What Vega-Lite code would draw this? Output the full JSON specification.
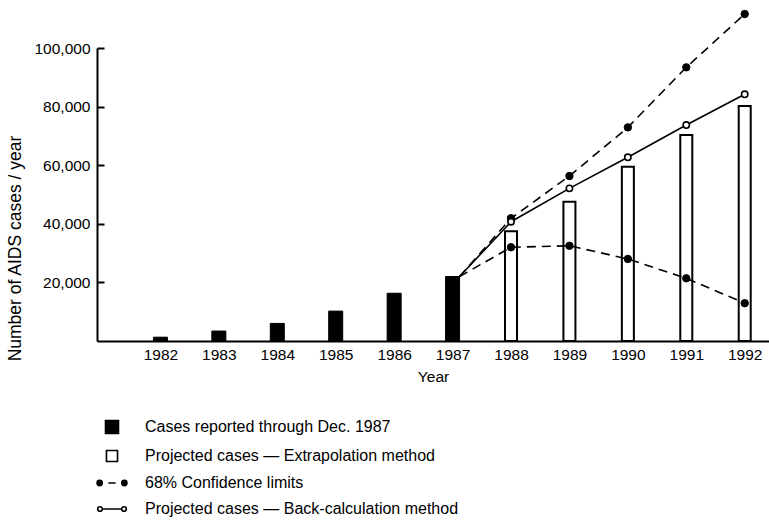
{
  "$schema": "https://vega.github.io/schema/vega-lite/v6.json",
  "autosize": "none",
  "width": 672,
  "height": 293,
  "padding": {"left": 97, "top": 48, "right": 0, "bottom": 190},
  "background": "white",
  "config": {
    "view": {"stroke": null},
    "font": "Liberation Sans",
    "axis": {"labelFont": "Liberation Sans", "titleFont": "Liberation Sans", "labelColor": "black", "titleColor": "black", "domainColor": "black", "tickColor": "black", "grid": false, "titleFontWeight": "normal"},
    "legend": {"labelFont": "Liberation Sans"}
  },
  "datasets": {
    "cases": [
      {"year": 1982, "value": 1300, "series": "reported"},
      {"year": 1983, "value": 3400, "series": "reported"},
      {"year": 1984, "value": 6000, "series": "reported"},
      {"year": 1985, "value": 10200, "series": "reported"},
      {"year": 1986, "value": 16300, "series": "reported"},
      {"year": 1987, "value": 22000, "series": "reported"},
      {"year": 1988, "value": 37500, "series": "extrapolation"},
      {"year": 1989, "value": 47500, "series": "extrapolation"},
      {"year": 1990, "value": 59500, "series": "extrapolation"},
      {"year": 1991, "value": 70300, "series": "extrapolation"},
      {"year": 1992, "value": 80200, "series": "extrapolation"},
      {"year": 1987.12, "value": 22000, "series": "backcalc"},
      {"year": 1988, "value": 40700, "series": "backcalc"},
      {"year": 1989, "value": 52100, "series": "backcalc"},
      {"year": 1990, "value": 62700, "series": "backcalc"},
      {"year": 1991, "value": 73700, "series": "backcalc"},
      {"year": 1992, "value": 84200, "series": "backcalc"},
      {"year": 1987.12, "value": 22000, "series": "upper"},
      {"year": 1988, "value": 41900, "series": "upper"},
      {"year": 1989, "value": 56300, "series": "upper"},
      {"year": 1990, "value": 72900, "series": "upper"},
      {"year": 1991, "value": 93400, "series": "upper"},
      {"year": 1992, "value": 111600, "series": "upper"},
      {"year": 1987.12, "value": 22000, "series": "lower"},
      {"year": 1988, "value": 32000, "series": "lower"},
      {"year": 1989, "value": 32500, "series": "lower"},
      {"year": 1990, "value": 28000, "series": "lower"},
      {"year": 1991, "value": 21400, "series": "lower"},
      {"year": 1992, "value": 12900, "series": "lower"}
    ],
    "legendItems": [
      {"label": "Cases reported through Dec. 1987"},
      {"label": "Projected cases — Extrapolation method"},
      {"label": "68% Confidence limits"},
      {"label": "Projected cases — Back-calculation method"}
    ]
  },
  "data": {"name": "cases"},
  "encoding": {
    "x": {
      "field": "year", "type": "quantitative",
      "scale": {"domain": [1981, 1992.33], "nice": false, "zero": false},
      "axis": {"values": [1982,1983,1984,1985,1986,1987,1988,1989,1990,1991,1992], "format": "d", "ticks": false, "domainWidth": 2, "labelFontSize": 15.5, "labelPadding": 6, "title": "Year", "titleFontSize": 15.5, "titlePadding": 7}
    },
    "y": {
      "field": "value", "type": "quantitative",
      "scale": {"domain": [0, 100000], "nice": false},
      "axis": {"values": [20000,40000,60000,80000,100000], "format": ",.0f", "tickSize": -7, "tickWidth": 2, "domainWidth": 2, "labelFontSize": 15.5, "labelPadding": 14, "title": "Number of AIDS cases / year", "titleFontSize": 17.5, "titleAngle": -90, "titleX": -82, "titleY": 200, "titleAlign": "center", "titleBaseline": "middle"}
    }
  },
  "layer": [
    {
      "transform": [{"filter": "datum.series === 'reported'"}],
      "mark": {"type": "bar", "size": 14, "fill": "black", "stroke": "black", "strokeWidth": 1}
    },
    {
      "transform": [{"filter": "datum.series === 'extrapolation'"}],
      "mark": {"type": "bar", "size": 12, "fill": "white", "stroke": "black", "strokeWidth": 2}
    },
    {
      "transform": [{"filter": "datum.series === 'upper' || datum.series === 'lower'"}],
      "mark": {"type": "line", "color": "black", "strokeWidth": 1.6, "strokeDash": [9, 6]},
      "encoding": {"detail": {"field": "series"}}
    },
    {
      "transform": [{"filter": "datum.series === 'backcalc'"}],
      "mark": {"type": "line", "color": "black", "strokeWidth": 1.6}
    },
    {
      "transform": [{"filter": "(datum.series === 'upper' || datum.series === 'lower') && datum.year >= 1988"}],
      "mark": {"type": "point", "shape": "circle", "filled": true, "fill": "black", "stroke": "black", "strokeWidth": 1, "size": 55, "opacity": 1}
    },
    {
      "transform": [{"filter": "datum.series === 'backcalc' && datum.year >= 1988"}],
      "mark": {"type": "point", "shape": "circle", "filled": true, "fill": "white", "stroke": "black", "strokeWidth": 1.6, "size": 40, "opacity": 1}
    },
    {
      "data": {"name": "legendItems"},
      "mark": {"type": "point", "filled": true, "opacity": 0, "strokeWidth": 1.6},
      "encoding": {
        "x": {"value": 0},
        "y": {"value": 0},
        "shape": {
          "field": "label", "type": "nominal",
          "scale": {
            "domain": ["Cases reported through Dec. 1987", "Projected cases — Extrapolation method", "68% Confidence limits", "Projected cases — Back-calculation method"],
            "range": ["square", "M-0.85,-0.85H0.85V0.85H-0.85Z", "M-2.3,0A0.4,0.4,0,1,1,-1.5,0A0.4,0.4,0,1,1,-2.3,0ZM-0.55,0H0.55M1.5,0A0.4,0.4,0,1,1,2.3,0A0.4,0.4,0,1,1,1.5,0Z", "M-2.2,0A0.35,0.35,0,1,1,-1.5,0A0.35,0.35,0,1,1,-2.2,0ZM-1.5,0H1.5M1.5,0A0.35,0.35,0,1,1,2.2,0A0.35,0.35,0,1,1,1.5,0Z"]
          },
          "legend": {
            "orient": "none", "legendX": 7, "legendY": 371, "title": null,
            "symbolSize": 169, "symbolStrokeColor": "black", "symbolStrokeWidth": 1.6, "symbolOpacity": 1,
            "labelFontSize": 16, "labelColor": "black", "labelOffset": 25, "labelLimit": 500, "rowPadding": 10, "padding": 0, "offset": 0
          }
        },
        "fill": {
          "field": "label", "type": "nominal",
          "scale": {
            "domain": ["Cases reported through Dec. 1987", "Projected cases — Extrapolation method", "68% Confidence limits", "Projected cases — Back-calculation method"],
            "range": ["black", "white", "black", "white"]
          }
        },
        "stroke": {
          "field": "label", "type": "nominal",
          "scale": {
            "domain": ["Cases reported through Dec. 1987", "Projected cases — Extrapolation method", "68% Confidence limits", "Projected cases — Back-calculation method"],
            "range": ["black", "black", "black", "black"]
          }
        }
      }
    }
  ]
}
